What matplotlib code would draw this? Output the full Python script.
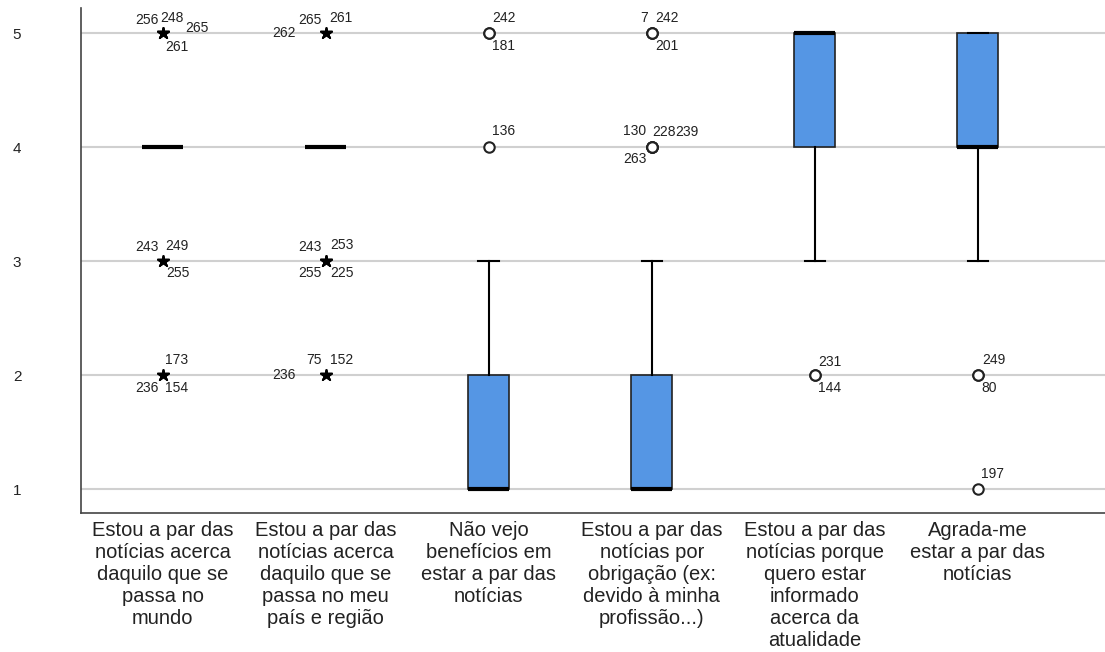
import matplotlib
matplotlib.use("Agg")
import matplotlib.pyplot as plt

plt.rcParams['font.family'] = ['Liberation Sans', 'DejaVu Sans']

categories = [
    "Estou a par das\nnotícias acerca\ndaquilo que se\npassa no\nmundo",
    "Estou a par das\nnotícias acerca\ndaquilo que se\npassa no meu\npaís e região",
    "Não vejo\nbenefícios em\nestar a par das\nnotícias",
    "Estou a par das\nnotícias por\nobrigação (ex:\ndevido à minha\nprofissão...)",
    "Estou a par das\nnotícias porque\nquero estar\ninformado\nacerca da\natualidade",
    "Agrada-me\nestar a par das\nnotícias",
]

# box statistics per category
q1 = [4, 4, 1, 1, 4, 4]
med = [4, 4, 1, 1, 5, 4]
q3 = [4, 4, 2, 2, 5, 5]
whislo = [4, 4, 1, 1, 3, 3]
whishi = [4, 4, 3, 3, 5, 5]

# outliers: (category index, value, case id)
out_cat = [0, 0, 0, 0, 0, 0, 0, 0, 0, 0,
           1, 1, 1, 1, 1, 1, 1, 1, 1, 1, 1,
           2, 2, 2,
           3, 3, 3, 3, 3, 3, 3,
           4, 4,
           5, 5, 5]
out_val = [5, 5, 5, 5, 3, 3, 3, 2, 2, 2,
           5, 5, 5, 3, 3, 3, 3, 2, 2, 2,
           5,
           5, 5, 4,
           5, 5, 5, 4, 4, 4, 4,
           2, 2,
           2, 2, 1]
out_id = ["256", "248", "265", "261", "243", "249", "255", "173", "236", "154",
          "262", "265", "261", "243", "253", "255", "225", "236", "75", "152",
          "",
          "242", "181", "136",
          "7", "242", "201", "130", "228", "239", "263",
          "231", "144",
          "249", "80", "197"]
# label offsets in pixels (dx, dy)
out_off = [(-16, 13), (9, 15), (34, 5), (14, -14), (-16, 14), (14, 15), (15, -12),
           (14, 15), (-16, -13), (14, -13),
           (-42, 0), (-16, 13), (15, 15), (-16, 14), (16, 16), (-16, -12), (16, -12),
           (-42, 0), (-12, 15), (16, 15),
           (0, 0),
           (15, 15), (15, -13), (15, 16),
           (-8, 15), (15, 15), (15, -13), (-17, 16), (12, 15), (35, 15), (-17, -12),
           (15, 13), (15, -13),
           (16, 15), (11, -13), (15, 15)]
# drop the placeholder entry
keep = [i for i in range(len(out_id)) if out_id[i] != ""]
out_cat = [out_cat[i] for i in keep]
out_val = [out_val[i] for i in keep]
out_id = [out_id[i] for i in keep]
out_off = [out_off[i] for i in keep]

fig = plt.figure(figsize=(11.05, 6.52), dpi=100)
ax = fig.add_axes([0.0733, 0.2132, 0.9267, 0.7745])

pos = list(range(1, len(categories) + 1))
stats = []
for i in range(len(categories)):
    stats.append(dict(med=med[i], q1=q1[i], q3=q3[i], whislo=whislo[i], whishi=whishi[i], fliers=[]))

bp = ax.bxp(stats, positions=pos, widths=0.25, patch_artist=True, showfliers=False,
            boxprops=dict(facecolor="#5596e4", edgecolor="#222222", linewidth=1.2),
            medianprops=dict(color="black", linewidth=3),
            whiskerprops=dict(color="black", linewidth=1.5),
            capprops=dict(color="black", linewidth=1.5), capwidths=0.125, zorder=3)

for c, v, lab, off in zip(out_cat, out_val, out_id, out_off):
    iqr = q3[c] - q1[c]
    extreme = v > q3[c] + 3 * iqr or v < q1[c] - 3 * iqr
    if extreme:
        ax.plot(c + 1, v, marker="*", color="black", markersize=9, zorder=4, linestyle="none")
    else:
        ax.plot(c + 1, v, marker="o", markerfacecolor="white", markeredgecolor="#222222",
                markeredgewidth=1.5, markersize=7.5, zorder=4, linestyle="none")
    ax.annotate(lab, (c + 1, v), xytext=(off[0] * 0.72, off[1] * 0.72), textcoords="offset points",
                ha="center", va="center", fontsize=10, color="#222222", zorder=5)

ax.set_xlim(0.5, 6.78)
ax.set_ylim(0.79, 5.22)
ax.set_yticks([1, 2, 3, 4, 5])
ax.set_xticks(pos)
ax.set_xticklabels(categories, fontsize=14.5, color="#222222")
ax.tick_params(axis="x", length=0, pad=6)
ax.tick_params(axis="y", length=0, pad=43, labelsize=11, labelcolor="#222222")
ax.yaxis.grid(True, color="#d0d0d0", linewidth=1.5, zorder=0)
ax.set_axisbelow(True)
for s in ["top", "right"]:
    ax.spines[s].set_visible(False)
for s in ["left", "bottom"]:
    ax.spines[s].set_color("#444444")
    ax.spines[s].set_linewidth(1.2)

fig.savefig("out.png", dpi=100)
